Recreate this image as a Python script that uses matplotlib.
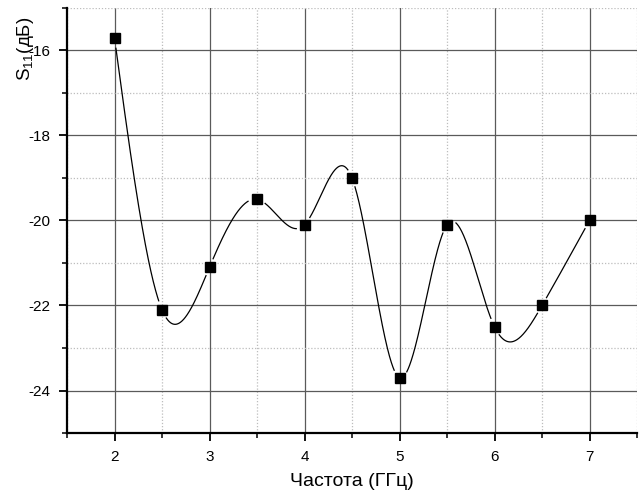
import numpy as np
import matplotlib
matplotlib.use("Agg")
import matplotlib.pyplot as plt
from matplotlib.ticker import MultipleLocator

freq = [2.0, 2.5, 3.0, 3.5, 4.0, 4.5, 5.0, 5.5, 6.0, 6.5, 7.0]
s11 = [-15.7, -22.1, -21.1, -19.5, -20.1, -19.0, -23.7, -20.1, -22.5, -22.0, -20.0]
xticks = [2, 3, 4, 5, 6, 7]
yticks = [-16, -18, -20, -22, -24]


def natural_spline(x, y, n=2000):
    x = np.asarray(x, float)
    y = np.asarray(y, float)
    k = len(x)
    h = np.diff(x)
    A = np.zeros((k, k))
    b = np.zeros(k)
    A[0, 0] = 1
    A[-1, -1] = 1
    for i in range(1, k - 1):
        A[i, i - 1] = h[i - 1]
        A[i, i] = 2 * (h[i - 1] + h[i])
        A[i, i + 1] = h[i]
        b[i] = 6 * ((y[i + 1] - y[i]) / h[i] - (y[i] - y[i - 1]) / h[i - 1])
    M = np.linalg.solve(A, b)
    xs = np.linspace(x[0], x[-1], n)
    idx = np.clip(np.searchsorted(x, xs) - 1, 0, k - 2)
    x0, x1 = x[idx], x[idx + 1]
    hh = x1 - x0
    t0 = x1 - xs
    t1 = xs - x0
    ys = (M[idx] * t0 ** 3 / (6 * hh) + M[idx + 1] * t1 ** 3 / (6 * hh)
          + (y[idx] / hh - M[idx] * hh / 6) * t0
          + (y[idx + 1] / hh - M[idx + 1] * hh / 6) * t1)
    return xs, ys


plt.rcParams['font.family'] = ['Liberation Sans', 'DejaVu Sans']
plt.rcParams['axes.unicode_minus'] = False
plt.rcParams['mathtext.fontset'] = 'custom'
plt.rcParams['mathtext.rm'] = 'Liberation Sans'
plt.rcParams['mathtext.it'] = 'Liberation Sans'

fig = plt.figure(figsize=(6.44, 4.97), dpi=100)
ax = fig.add_axes([67 / 644, 64 / 497, 570 / 644, 425 / 497])
ax.set_xlim(1.5, 7.5)
ax.set_ylim(-25, -15)

ax.xaxis.set_major_locator(MultipleLocator(1))
ax.xaxis.set_minor_locator(MultipleLocator(0.5))
ax.yaxis.set_major_locator(MultipleLocator(2))
ax.yaxis.set_minor_locator(MultipleLocator(1))
ax.set_xticks(xticks)
ax.set_yticks(yticks)

ax.grid(which='major', color='#5a5a5a', linewidth=0.9, linestyle='-')
ax.grid(which='minor', color='#bdbdbd', linewidth=0.9, linestyle=(0, (1, 1.5)))
ax.set_axisbelow(True)

for s in ['top', 'right']:
    ax.spines[s].set_visible(False)
for s in ['left', 'bottom']:
    ax.spines[s].set_linewidth(1.6)

ax.tick_params(which='major', direction='out', length=6, width=1.3, labelsize=11, pad=6)
ax.tick_params(which='minor', direction='out', length=3.5, width=1.1)

# spline with gaps near the symbols
xs, ys = natural_spline(freq, s11)
pts = ax.transData.transform(np.column_stack([xs, ys]))
mk = ax.transData.transform(np.column_stack([freq, s11]))
d = np.min(np.hypot(pts[:, None, 0] - mk[None, :, 0], pts[:, None, 1] - mk[None, :, 1]), axis=1)
ys_m = np.where(d < 9, np.nan, ys)
ax.plot(xs, ys_m, color='black', linewidth=0.9)
ax.plot(freq, s11, linestyle='none', marker='s', markersize=7, color='black')

ax.set_xlabel('Частота (ГГц)', fontsize=14, labelpad=7)
ax.set_ylabel('S$_{11}$(дБ)', fontsize=13.5)
ax.yaxis.set_label_coords(-0.054, 0.905)

fig.savefig('out.png', dpi=100)
